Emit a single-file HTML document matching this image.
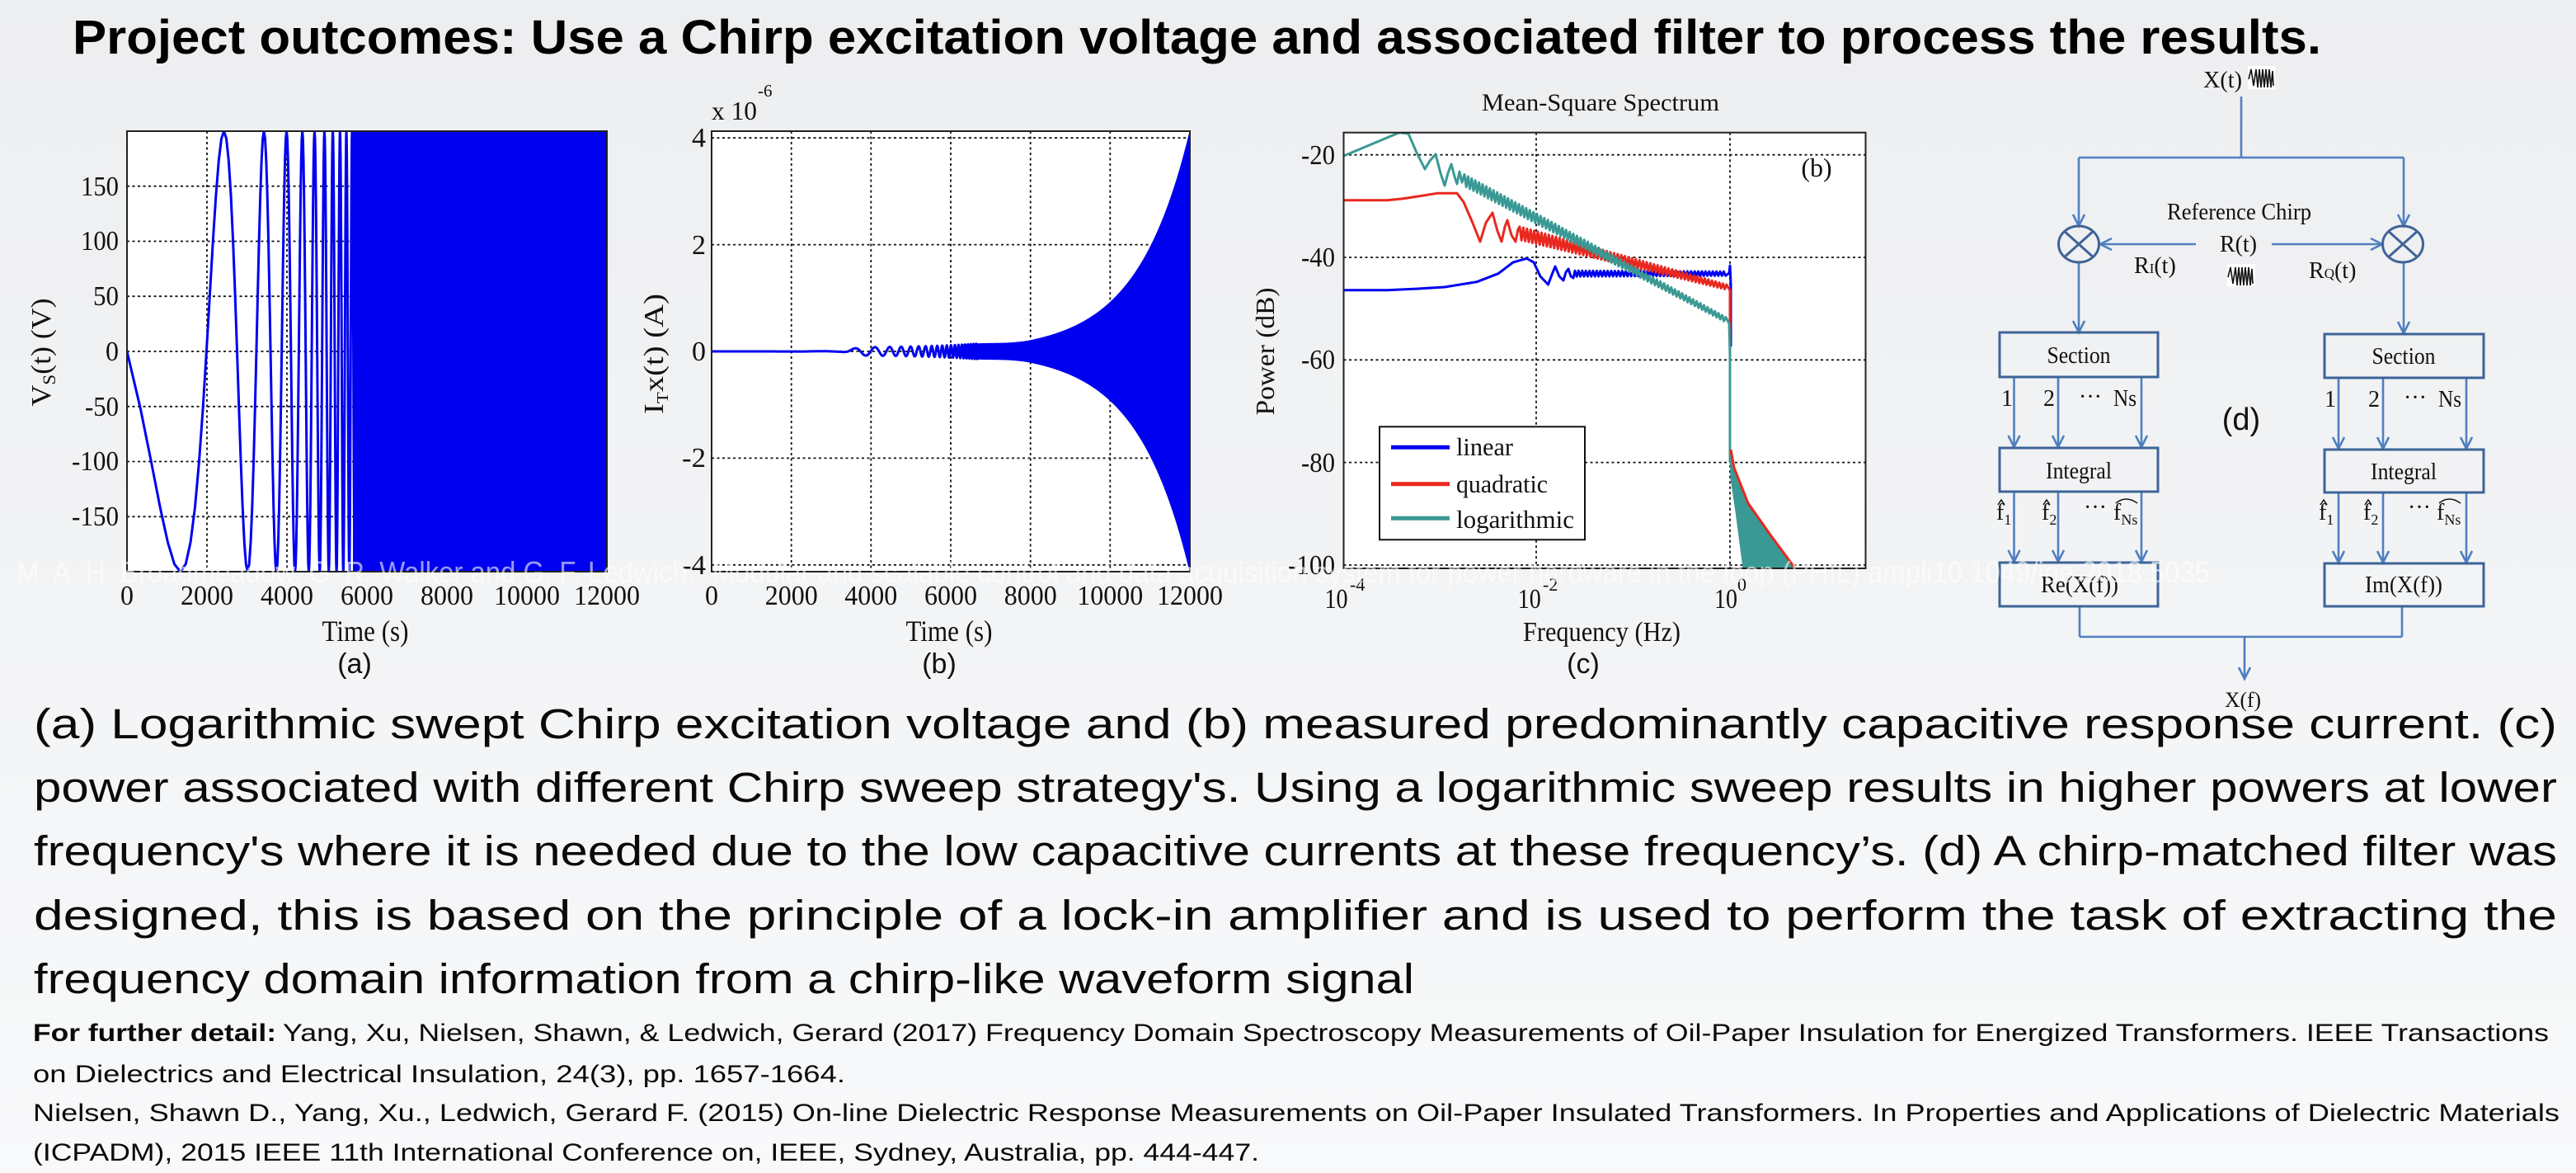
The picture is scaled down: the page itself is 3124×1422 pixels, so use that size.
<!DOCTYPE html>
<html><head><meta charset="utf-8"><style>
html,body{margin:0;padding:0;width:3124px;height:1422px;overflow:hidden;background:#f1f2f4}
svg{display:block}
.s{font-family:"Liberation Sans",Arial,sans-serif}
.t{font-family:"Liberation Serif","Times New Roman",serif}
.g{stroke:#111;stroke-width:1.8;stroke-dasharray:3,3.5;fill:none}
.fr{fill:none;stroke:#222;stroke-width:2}
.dl{stroke:#4f7fc0;stroke-width:2.6;fill:none}
.bx{stroke:#3d6497;stroke-width:3;fill:none}
</style></head><body>
<svg width="3124" height="1422" viewBox="0 0 3124 1422" xmlns="http://www.w3.org/2000/svg">
<defs>
<linearGradient id="bg" x1="0" y1="0" x2="0" y2="1"><stop offset="0" stop-color="#edeef0"/><stop offset="1" stop-color="#f8f9fa"/></linearGradient>
<clipPath id="ca"><rect x="154" y="159" width="582" height="534"/></clipPath>
<clipPath id="cb"><rect x="863" y="159" width="580" height="534"/></clipPath>
<clipPath id="cc"><rect x="1629.5" y="160.7" width="633" height="528.3"/></clipPath>
</defs>
<rect x="0" y="0" width="3124" height="1422" fill="url(#bg)"/>

<!-- Title -->
<text class="s" x="88" y="65" font-size="58" font-weight="bold" fill="#000" textLength="2727" lengthAdjust="spacingAndGlyphs">Project outcomes: Use a Chirp excitation voltage and associated filter to process the results.</text>

<!-- ============ Plot (a) ============ -->
<rect x="154" y="159" width="582" height="534" fill="#fff"/>
<g class="g">
<line x1="251" y1="159" x2="251" y2="693"/><line x1="348" y1="159" x2="348" y2="693"/><line x1="445" y1="159" x2="445" y2="693"/><line x1="542" y1="159" x2="542" y2="693"/><line x1="639" y1="159" x2="639" y2="693"/>
<line x1="154" y1="225.7" x2="736" y2="225.7"/><line x1="154" y1="292.5" x2="736" y2="292.5"/><line x1="154" y1="359.2" x2="736" y2="359.2"/><line x1="154" y1="426" x2="736" y2="426"/><line x1="154" y1="492.8" x2="736" y2="492.8"/><line x1="154" y1="559.5" x2="736" y2="559.5"/><line x1="154" y1="626.3" x2="736" y2="626.3"/>
</g>
<g clip-path="url(#ca)">
<rect x="428" y="159" width="308" height="534" fill="#0000f0"/>
<path id="sa" d="" fill="none" stroke="#0000f0" stroke-width="3" stroke-linejoin="round"/>
</g>
<rect class="fr" x="154" y="159" width="582" height="534"/>
<g class="t" font-size="34" fill="#111" text-anchor="end">
<text x="144" y="237" textLength="46" lengthAdjust="spacingAndGlyphs">150</text>
<text x="144" y="303" textLength="46" lengthAdjust="spacingAndGlyphs">100</text>
<text x="144" y="370" textLength="31" lengthAdjust="spacingAndGlyphs">50</text>
<text x="144" y="437" textLength="16" lengthAdjust="spacingAndGlyphs">0</text>
<text x="144" y="504" textLength="41" lengthAdjust="spacingAndGlyphs">-50</text>
<text x="144" y="570" textLength="57" lengthAdjust="spacingAndGlyphs">-100</text>
<text x="144" y="637" textLength="57" lengthAdjust="spacingAndGlyphs">-150</text>
</g>
<g class="t" font-size="34" fill="#111" text-anchor="middle">
<text x="154" y="733" textLength="16" lengthAdjust="spacingAndGlyphs">0</text>
<text x="251" y="733" textLength="64" lengthAdjust="spacingAndGlyphs">2000</text>
<text x="348" y="733" textLength="64" lengthAdjust="spacingAndGlyphs">4000</text>
<text x="445" y="733" textLength="64" lengthAdjust="spacingAndGlyphs">6000</text>
<text x="542" y="733" textLength="64" lengthAdjust="spacingAndGlyphs">8000</text>
<text x="639" y="733" textLength="80" lengthAdjust="spacingAndGlyphs">10000</text>
<text x="736" y="733" textLength="80" lengthAdjust="spacingAndGlyphs">12000</text>
<text x="443" y="777" font-size="36" textLength="105" lengthAdjust="spacingAndGlyphs">Time (s)</text>
</g>
<text class="t" transform="rotate(-90 50 427)" x="50" y="438" font-size="34" fill="#111" text-anchor="middle" textLength="131" lengthAdjust="spacingAndGlyphs">V<tspan font-size="22" dy="6">S</tspan><tspan dy="-6">(t) (V)</tspan></text>
<text class="s" x="430" y="816" font-size="34" fill="#111" text-anchor="middle">(a)</text>

<!-- ============ Plot (b) ============ -->
<rect x="863" y="159" width="580" height="534" fill="#fff"/>
<g class="g">
<line x1="959.7" y1="159" x2="959.7" y2="693"/><line x1="1056.3" y1="159" x2="1056.3" y2="693"/><line x1="1153" y1="159" x2="1153" y2="693"/><line x1="1249.7" y1="159" x2="1249.7" y2="693"/><line x1="1346.3" y1="159" x2="1346.3" y2="693"/>
<line x1="863" y1="167.2" x2="1443" y2="167.2"/><line x1="863" y1="296.6" x2="1443" y2="296.6"/><line x1="863" y1="426" x2="1443" y2="426"/><line x1="863" y1="555.4" x2="1443" y2="555.4"/><line x1="863" y1="684.8" x2="1443" y2="684.8"/>
</g>
<g clip-path="url(#cb)">
<path id="sb" d="" fill="none" stroke="#0000f0" stroke-width="3" stroke-linejoin="round"/>
<path id="sbe" d="" fill="#0000f0" stroke="#0000f0" stroke-width="1"/>
</g>
<rect class="fr" x="863" y="159" width="580" height="534"/>
<g class="t" font-size="34" fill="#111" text-anchor="end">
<text x="856" y="178">4</text>
<text x="856" y="308">2</text>
<text x="856" y="437">0</text>
<text x="856" y="566" textLength="29" lengthAdjust="spacingAndGlyphs">-2</text>
<text x="856" y="696" textLength="29" lengthAdjust="spacingAndGlyphs">-4</text>
</g>
<g class="t" font-size="34" fill="#111" text-anchor="middle">
<text x="863" y="733" textLength="16" lengthAdjust="spacingAndGlyphs">0</text>
<text x="959.7" y="733" textLength="64" lengthAdjust="spacingAndGlyphs">2000</text>
<text x="1056.3" y="733" textLength="64" lengthAdjust="spacingAndGlyphs">4000</text>
<text x="1153" y="733" textLength="64" lengthAdjust="spacingAndGlyphs">6000</text>
<text x="1249.7" y="733" textLength="64" lengthAdjust="spacingAndGlyphs">8000</text>
<text x="1346.3" y="733" textLength="80" lengthAdjust="spacingAndGlyphs">10000</text>
<text x="1443" y="733" textLength="80" lengthAdjust="spacingAndGlyphs">12000</text>
<text x="1151" y="777" font-size="36" textLength="105" lengthAdjust="spacingAndGlyphs">Time (s)</text>
</g>
<text class="t" x="863" y="145" font-size="32" fill="#111" textLength="55" lengthAdjust="spacingAndGlyphs">x 10</text>
<text class="t" x="919" y="117" font-size="21" fill="#111">-6</text>
<text class="t" transform="rotate(-90 793 429)" x="793" y="440" font-size="34" fill="#111" text-anchor="middle" textLength="146" lengthAdjust="spacingAndGlyphs">I<tspan font-size="20" dy="6">T</tspan><tspan dy="-6">x(t) (A)</tspan></text>
<text class="s" x="1139" y="816" font-size="34" fill="#111" text-anchor="middle">(b)</text>

<!-- ============ Plot (c) ============ -->
<text class="t" x="1941" y="134" font-size="30" fill="#111" text-anchor="middle" textLength="288" lengthAdjust="spacingAndGlyphs">Mean-Square Spectrum</text>
<rect x="1629.5" y="160.7" width="633" height="528.3" fill="#fff"/>
<g class="g">
<line x1="1863" y1="160.7" x2="1863" y2="689"/><line x1="2098" y1="160.7" x2="2098" y2="689"/>
<line x1="1629.5" y1="187.7" x2="2262.5" y2="187.7"/><line x1="1629.5" y1="312" x2="2262.5" y2="312"/><line x1="1629.5" y1="436.3" x2="2262.5" y2="436.3"/><line x1="1629.5" y1="560.6" x2="2262.5" y2="560.6"/><line x1="1629.5" y1="685" x2="2262.5" y2="685"/>
</g>
<g clip-path="url(#cc)" fill="none" stroke-linejoin="round">
<path id="cl" d="" stroke="#0000f0" stroke-width="3"/>
<path id="cq" d="" stroke="#e8281f" stroke-width="3"/>
<path id="ct" d="" stroke="#3a9994" stroke-width="3"/>
<polygon points="2098,545 2103,567 2120,610 2146,647 2177,689 2114,689 2105,620 2099,580" fill="#3a9994" stroke="#3a9994" stroke-width="1"/>
<polyline points="2099,545 2103,567 2120,610 2146,647 2177,689" stroke="#e8281f" stroke-width="3"/>
</g>
<rect class="fr" x="1629.5" y="160.7" width="633" height="528.3"/>
<text class="t" x="2203" y="214" font-size="32" fill="#111" text-anchor="middle">(b)</text>
<g class="t" font-size="34" fill="#111" text-anchor="end">
<text x="1619" y="199" textLength="41" lengthAdjust="spacingAndGlyphs">-20</text>
<text x="1619" y="323" textLength="41" lengthAdjust="spacingAndGlyphs">-40</text>
<text x="1619" y="447" textLength="41" lengthAdjust="spacingAndGlyphs">-60</text>
<text x="1619" y="572" textLength="41" lengthAdjust="spacingAndGlyphs">-80</text>
<text x="1619" y="696" textLength="57" lengthAdjust="spacingAndGlyphs">-100</text>
</g>
<g class="t" fill="#111">
<text x="1606.5" y="737" font-size="34" textLength="28" lengthAdjust="spacingAndGlyphs">10</text>
<text x="1637" y="716" font-size="22">-4</text>
<text x="1840.7" y="737" font-size="34" textLength="28" lengthAdjust="spacingAndGlyphs">10</text>
<text x="1871" y="716" font-size="22">-2</text>
<text x="2079" y="737" font-size="34" textLength="28" lengthAdjust="spacingAndGlyphs">10</text>
<text x="2107" y="716" font-size="22">0</text>
<text x="1942.5" y="777" font-size="34" text-anchor="middle" textLength="191" lengthAdjust="spacingAndGlyphs">Frequency (Hz)</text>
</g>
<text class="t" transform="rotate(-90 1534 426)" x="1534" y="437" font-size="32" fill="#111" text-anchor="middle" textLength="155" lengthAdjust="spacingAndGlyphs">Power (dB)</text>
<text class="s" x="1920" y="816" font-size="34" fill="#111" text-anchor="middle">(c)</text>
<!-- legend -->
<rect x="1673" y="517.3" width="249" height="137" fill="#fff" stroke="#111" stroke-width="2"/>
<line x1="1687" y1="542.3" x2="1758" y2="542.3" stroke="#0000f0" stroke-width="5"/>
<line x1="1687" y1="586.7" x2="1758" y2="586.7" stroke="#e8281f" stroke-width="5"/>
<line x1="1687" y1="628.3" x2="1758" y2="628.3" stroke="#3a9994" stroke-width="5"/>
<g class="t" font-size="31" fill="#111">
<text x="1766" y="552" textLength="69" lengthAdjust="spacingAndGlyphs">linear</text>
<text x="1766" y="597" textLength="111" lengthAdjust="spacingAndGlyphs">quadratic</text>
<text x="1766" y="640" textLength="143" lengthAdjust="spacingAndGlyphs">logarithmic</text>
</g>

<!-- ============ Diagram (d) ============ -->
<g class="dl">
<line x1="2718" y1="117" x2="2718" y2="191"/>
<line x1="2521" y1="191" x2="2915" y2="191"/>
<line x1="2521" y1="191" x2="2521" y2="274"/>
<line x1="2915" y1="191" x2="2915" y2="274"/>
<polyline points="2514,260 2521,274 2528,260"/>
<polyline points="2908,260 2915,274 2922,260"/>
<line x1="2663" y1="296" x2="2547" y2="296"/>
<polyline points="2561,289 2547,296 2561,303"/>
<line x1="2755" y1="296" x2="2889" y2="296"/>
<polyline points="2875,289 2889,296 2875,303"/>
<line x1="2521" y1="318" x2="2521" y2="403"/>
<polyline points="2514,389 2521,403 2528,389"/>
<line x1="2915" y1="318" x2="2915" y2="404"/>
<polyline points="2908,390 2915,404 2922,390"/>
<!-- section -> integral -->
<line x1="2442.5" y1="457" x2="2442.5" y2="542"/><polyline points="2435.5,528 2442.5,542 2449.5,528"/>
<line x1="2496" y1="457" x2="2496" y2="542"/><polyline points="2489,528 2496,542 2503,528"/>
<line x1="2597" y1="457" x2="2597" y2="542"/><polyline points="2590,528 2597,542 2604,528"/>
<line x1="2836" y1="458" x2="2836" y2="544"/><polyline points="2829,530 2836,544 2843,530"/>
<line x1="2890" y1="458" x2="2890" y2="544"/><polyline points="2883,530 2890,544 2897,530"/>
<line x1="2991" y1="458" x2="2991" y2="544"/><polyline points="2984,530 2991,544 2998,530"/>
<!-- integral -> Re/Im -->
<line x1="2442.5" y1="596" x2="2442.5" y2="681"/><polyline points="2435.5,667 2442.5,681 2449.5,667"/>
<line x1="2496" y1="596" x2="2496" y2="681"/><polyline points="2489,667 2496,681 2503,667"/>
<line x1="2597" y1="596" x2="2597" y2="681"/><polyline points="2590,667 2597,681 2604,667"/>
<line x1="2836" y1="597" x2="2836" y2="682"/><polyline points="2829,668 2836,682 2843,668"/>
<line x1="2890" y1="597" x2="2890" y2="682"/><polyline points="2883,668 2890,682 2897,668"/>
<line x1="2991" y1="597" x2="2991" y2="682"/><polyline points="2984,668 2991,682 2998,668"/>
<!-- output -->
<line x1="2522" y1="735" x2="2522" y2="772"/>
<line x1="2913" y1="735" x2="2913" y2="772"/>
<line x1="2522" y1="772" x2="2913" y2="772"/>
<line x1="2722" y1="772" x2="2722" y2="823"/>
<polyline points="2715,809 2722,823 2729,809"/>
</g>
<g stroke="#3f6396" stroke-width="3" fill="none">
<ellipse cx="2521" cy="296" rx="24.5" ry="22"/>
<line x1="2503.7" y1="280.5" x2="2538.3" y2="311.5"/><line x1="2538.3" y1="280.5" x2="2503.7" y2="311.5"/>
<ellipse cx="2914" cy="296" rx="24.5" ry="22"/>
<line x1="2896.7" y1="280.5" x2="2931.3" y2="311.5"/><line x1="2931.3" y1="280.5" x2="2896.7" y2="311.5"/>
</g>
<g class="bx">
<rect x="2425" y="403" width="192" height="54"/>
<rect x="2819" y="405" width="193" height="53"/>
<rect x="2425" y="543" width="192" height="53"/>
<rect x="2819" y="545" width="193" height="52"/>
<rect x="2425" y="682" width="192" height="53"/>
<rect x="2819" y="683" width="193" height="52"/>
</g>
<!-- chirp icons -->
<rect x="2726" y="80" width="33" height="28" fill="#fff"/>
<path d="M2727,96 L2730,84 L2733,104 L2736,84 L2738,106 L2740,84 L2742,106 L2744,84 L2746,106 L2748,84 L2750,106 L2752,84 L2754,106 L2756,86 L2757,104" fill="none" stroke="#111" stroke-width="1.6"/>
<rect x="2701" y="320" width="34" height="27" fill="#fff"/>
<path d="M2702,336 L2705,324 L2708,344 L2711,324 L2713,346 L2715,324 L2717,346 L2719,324 L2721,346 L2723,324 L2725,346 L2727,324 L2729,346 L2731,326 L2732,344" fill="none" stroke="#111" stroke-width="1.6"/>
<g class="t" font-size="28" fill="#111">
<text x="2672" y="106" textLength="47" lengthAdjust="spacingAndGlyphs">X(t)</text>
<text x="2628" y="266" textLength="175" lengthAdjust="spacingAndGlyphs">Reference Chirp</text>
<text x="2692" y="305" textLength="45" lengthAdjust="spacingAndGlyphs">R(t)</text>
<text x="2588" y="331">R<tspan font-size="17">I</tspan>(t)</text>
<text x="2800" y="337">R<tspan font-size="17">Q</tspan>(t)</text>
<text x="2521" y="440" text-anchor="middle" textLength="77" lengthAdjust="spacingAndGlyphs">Section</text>
<text x="2915" y="441" text-anchor="middle" textLength="77" lengthAdjust="spacingAndGlyphs">Section</text>
<text x="2521" y="580" text-anchor="middle" textLength="80" lengthAdjust="spacingAndGlyphs">Integral</text>
<text x="2915" y="581" text-anchor="middle" textLength="80" lengthAdjust="spacingAndGlyphs">Integral</text>
<text x="2522" y="718" text-anchor="middle" textLength="94" lengthAdjust="spacingAndGlyphs">Re(X(f))</text>
<text x="2915" y="718" text-anchor="middle" textLength="94" lengthAdjust="spacingAndGlyphs">Im(X(f))</text>
<text x="2427" y="492">1</text><text x="2478" y="492">2</text><text x="2521" y="490">···</text><text x="2563" y="492" textLength="28" lengthAdjust="spacingAndGlyphs">Ns</text>
<text x="2819" y="493">1</text><text x="2872" y="493">2</text><text x="2915" y="491">···</text><text x="2957" y="493" textLength="28" lengthAdjust="spacingAndGlyphs">Ns</text>
<text x="2421" y="630">f<tspan font-size="18" dy="6">1</tspan></text>
<text x="2476" y="630">f<tspan font-size="18" dy="6">2</tspan></text>
<text x="2527" y="624">···</text>
<text x="2563" y="630">f<tspan font-size="18" dy="6">Ns</tspan></text>
<text x="2812" y="630">f<tspan font-size="18" dy="6">1</tspan></text>
<text x="2866" y="630">f<tspan font-size="18" dy="6">2</tspan></text>
<text x="2920" y="624">···</text>
<text x="2955" y="630">f<tspan font-size="18" dy="6">Ns</tspan></text>
<text x="2698" y="857" font-size="26" textLength="44" lengthAdjust="spacingAndGlyphs">X(f)</text>
</g>
<g fill="none" stroke="#111" stroke-width="1.5">
<polyline points="2423,612 2427,606 2431,612"/><polyline points="2478,612 2482,606 2486,612"/>
<polyline points="2814,612 2818,606 2822,612"/><polyline points="2868,612 2872,606 2876,612"/>
<path d="M2566,610 Q2578,600 2592,610"/><path d="M2958,610 Q2970,600 2984,610"/>
</g>
<text class="s" x="2718" y="521" font-size="38" fill="#111" text-anchor="middle">(d)</text>

<!-- watermark -->
<text class="s" x="20" y="706" font-size="36" fill="#ffffff" fill-opacity="0.6" textLength="2660" lengthAdjust="spacingAndGlyphs">M. A. H. Broadmeadow, G. R. Walker and G. F. Ledwich, "Modular and scalable control and data acquisition system for power hardware in the loop (PHIL) ampli10.1049/joe.2018.5035</text>

<!-- caption -->
<g class="s" font-size="51" fill="#0a0a0a">
<text x="41" y="895" textLength="3060" lengthAdjust="spacingAndGlyphs">(a) Logarithmic swept Chirp excitation voltage and (b) measured predominantly capacitive response current. (c)</text>
<text x="41" y="972" textLength="3060" lengthAdjust="spacingAndGlyphs">power associated with different Chirp sweep strategy's. Using a logarithmic sweep results in higher powers at lower</text>
<text x="41" y="1049" textLength="3060" lengthAdjust="spacingAndGlyphs">frequency's where it is needed due to the low capacitive currents at these frequency’s. (d) A chirp-matched filter was</text>
<text x="41" y="1127" textLength="3060" lengthAdjust="spacingAndGlyphs">designed, this is based on the principle of a lock-in amplifier and is used to perform the task of extracting the</text>
<text x="41" y="1204" textLength="1674" lengthAdjust="spacingAndGlyphs">frequency domain information from a chirp-like waveform signal</text>
</g>
<g class="s" font-size="30" fill="#0a0a0a">
<text x="40" y="1262" font-weight="bold" textLength="295" lengthAdjust="spacingAndGlyphs">For further detail:</text>
<text x="343" y="1262" textLength="2748" lengthAdjust="spacingAndGlyphs">Yang, Xu, Nielsen, Shawn, &amp; Ledwich, Gerard (2017) Frequency Domain Spectroscopy Measurements of Oil-Paper Insulation for Energized Transformers. IEEE Transactions</text>
<text x="40" y="1312" textLength="985" lengthAdjust="spacingAndGlyphs">on Dielectrics and Electrical Insulation, 24(3), pp. 1657-1664.</text>
<text x="40" y="1359" textLength="3064" lengthAdjust="spacingAndGlyphs">Nielsen, Shawn D., Yang, Xu., Ledwich, Gerard F. (2015) On-line Dielectric Response Measurements on Oil-Paper Insulated Transformers. In Properties and Applications of Dielectric Materials</text>
<text x="40" y="1407" textLength="1487" lengthAdjust="spacingAndGlyphs">(ICPADM), 2015 IEEE 11th International Conference on, IEEE, Sydney, Australia, pp. 444-447.</text>
</g>
</svg>
<script>
(function(){
var A=0.913,b=7.5e-4,PI=Math.PI;
function phi(t){return A*(Math.exp(b*t)-1);}
function tOf(p){return Math.log(1+p/A)/b;}
// plot a
var d='',pm=phi(6800);
for(var p=0;p<=pm;p+=PI/12){
 var t=tOf(p),x=154+t*582/12000,y=426+200*Math.sin(p)*1.335;
 d+=(d?'L':'M')+x.toFixed(2)+','+y.toFixed(2);
}
document.getElementById('sa').setAttribute('d',d);
// plot b
function ss(a,c,x){x=Math.min(1,Math.max(0,(x-a)/(c-a)));return x*x*(3-2*x);}
function E(t){return 4.12*Math.exp(b*(t-12000))+0.07*ss(3200,3800,t)*(1-ss(6500,8000,t));}
var d2='';pm=phi(6700);
for(p=0;p<=pm;p+=PI/8){
 var t2=tOf(p),x2=863+t2*580/12000,y2=426-E(t2)*Math.cos(p)*64.7;
 d2+=(d2?'L':'M')+x2.toFixed(2)+','+y2.toFixed(2);
}
document.getElementById('sb').setAttribute('d',d2);
var up=[],lo=[];
for(var tt=6300;tt<=12000;tt+=25){
 var xx=863+tt*580/12000,e=E(tt)*64.7;e=Math.max(e,2);
 up.push(xx.toFixed(2)+','+(426-e).toFixed(2));
 lo.push(xx.toFixed(2)+','+(426+e).toFixed(2));
}
document.getElementById('sbe').setAttribute('d','M'+up.join('L')+'L'+lo.reverse().join('L')+'Z');
// plot c
function zig(x0,x1,yc,a0,a1,st){
 var s='',i=0;
 for(var x=x0;x<=x1;x+=st,i++){var f=(x-x0)/(x1-x0);var a=a0+(a1-a0)*f;
  s+='L'+x.toFixed(1)+','+(yc(x)+(i%2?a:-a)).toFixed(1);}
 return s;
}
var tl='M1629.5,189 L1697,160.7 L1708,162 L1718,185 L1728,205 L1734,195 L1741,187 L1747,210 L1752,225 L1756,210 L1760,199 L1764,214 L1767,223 L1770,208 L1773,221'+
 zig(1776,2094,function(x){return 210+0.533*(x-1760);},7,3,2.2)+' L2097,392 L2098,430 L2098,560';
document.getElementById('ct').setAttribute('d',tl);
var ql='M1629.5,242.7 L1682,242.7 L1700,241 L1720,238 L1743,234.3 L1767,234.3 L1775,245 L1785,268 L1795,293 L1802,270 L1810,258 L1816,280 L1821,293 L1825,275 L1828,267 L1833,285 L1838,293 L1841,278'+
 zig(1843,2094,function(x){return 282+0.26*(x-1840);},8,3,2.2)+' L2098,352 L2098,407 L2098,545';
document.getElementById('cq').setAttribute('d',ql);
var ll='M1629.5,351.7 L1682,351.7 L1720,350 L1752,348 L1791,341.7 L1817,331.7 L1835,318 L1851.5,313.3 L1860,318 L1868,335 L1877.5,345 L1882,333 L1886,323 L1891,335 L1896,340 L1899,330 L1902,326 L1905,335 L1908,337'+
 zig(1910,2094,function(x){return 331.7;},3.5,2.5,2.2)+' L2097,331 L2098,322 L2099,345 L2099,420';
document.getElementById('cl').setAttribute('d',ll);
})();
</script>
</body></html>
